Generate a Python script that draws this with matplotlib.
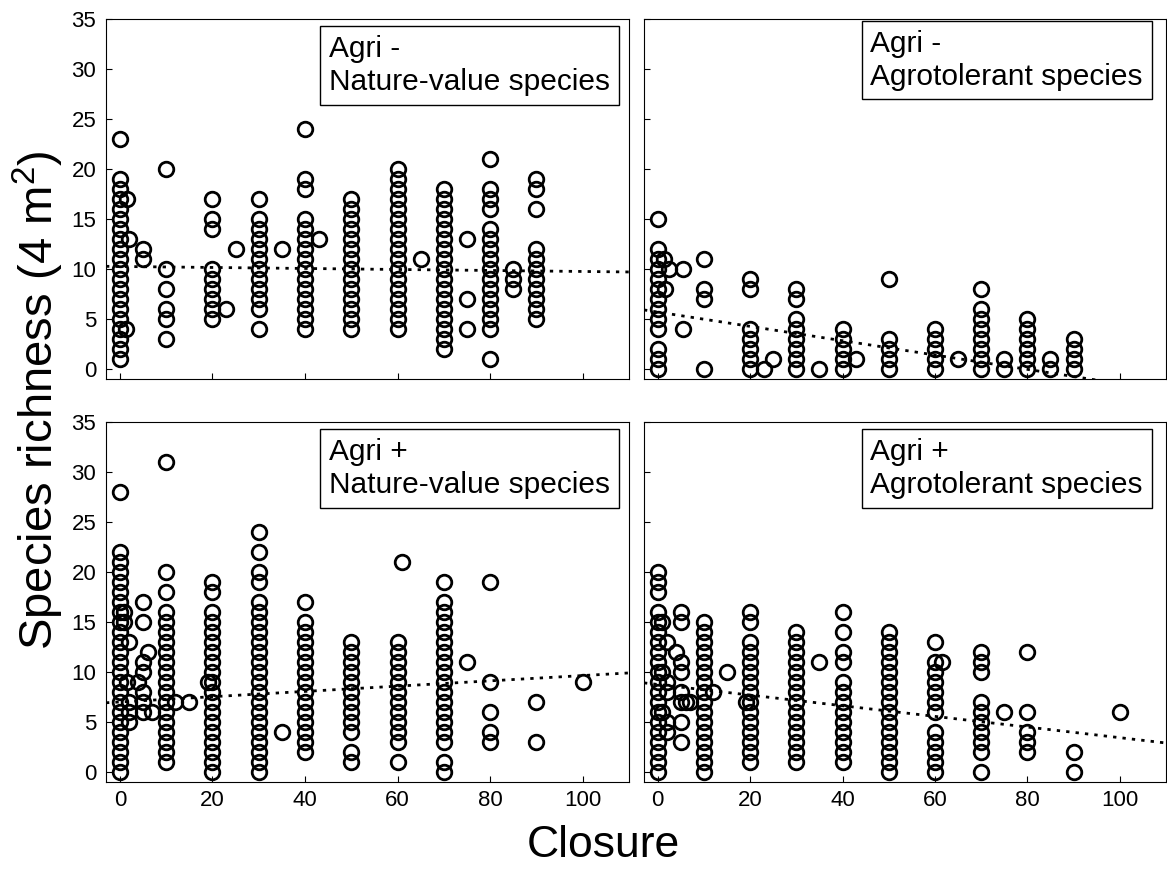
import numpy as np
import matplotlib.pyplot as plt

plt.rcParams['font.family'] = ['Liberation Sans', 'DejaVu Sans']
plt.rcParams['mathtext.default'] = 'regular'

# closure levels where most plots sit
levels = [0, 10, 20, 30, 40, 50, 60, 70, 80, 90]

# Agri - / Nature-value species : richness per closure level
nvm_cols = [
    [23, 19, 18, 17, 16, 15, 14, 13, 12, 11, 10, 9, 8, 7, 6, 5, 4, 3, 2, 1],
    [20, 10, 8, 6, 5, 3],
    [17, 15, 14, 10, 9, 8, 7, 6, 5],
    [17, 15, 14, 13, 12, 11, 10, 9, 8, 7, 6, 4],
    [24, 19, 18, 15, 14, 13, 12, 11, 10, 9, 8, 7, 6, 5, 4],
    [17, 16, 15, 14, 13, 12, 11, 10, 9, 8, 7, 6, 5, 4],
    [20, 19, 18, 17, 16, 15, 14, 13, 12, 11, 10, 9, 8, 7, 6, 5, 4],
    [18, 17, 16, 15, 14, 13, 12, 11, 10, 9, 8, 7, 6, 5, 4, 3, 2],
    [21, 18, 17, 16, 14, 13, 12, 11, 10, 9, 8, 7, 6, 5, 4, 1],
    [19, 18, 16, 12, 11, 10, 9, 8, 7, 6, 5],
]
nvm_xo = [1.5, 2, 1.3, 5, 5, 23, 25, 35, 43, 65, 75, 75, 75, 85, 85, 85]
nvm_yo = [17, 13, 4, 12, 11, 6, 12, 12, 13, 11, 13, 7, 4, 10, 9, 8]

# Agri - / Agrotolerant species
agm_cols = [
    [15, 12, 11, 10, 9, 8, 7, 6, 5, 4, 2, 1, 0],
    [11, 8, 7, 0],
    [9, 8, 4, 3, 2, 1, 0],
    [8, 7, 5, 4, 3, 2, 1, 0],
    [4, 3, 2, 1, 0],
    [9, 3, 2, 1, 0],
    [4, 3, 2, 1, 0],
    [8, 6, 5, 4, 3, 2, 1, 0],
    [5, 4, 3, 2, 1, 0],
    [3, 2, 1, 0],
]
agm_xo = [1.3, 2.4, 5.4, 1.5, 5.4, 23, 25, 35, 43, 65, 75, 75, 85, 85]
agm_yo = [11, 10, 10, 8, 4, 0, 1, 0, 1, 1, 1, 0, 1, 0]

# Agri + / Nature-value species
nvp_cols = [
    [28, 22, 21, 20, 19, 18, 17, 16, 15, 14, 13, 12, 11, 10, 9, 8, 7, 6, 5, 4, 3, 2, 1, 0],
    [31, 20, 18, 16, 15, 14, 13, 12, 11, 10, 9, 8, 7, 6, 5, 4, 3, 2, 1],
    [19, 18, 16, 15, 14, 13, 12, 11, 10, 9, 8, 7, 6, 5, 4, 3, 2, 1, 0],
    [24, 22, 20, 19, 17, 16, 15, 14, 13, 12, 11, 10, 9, 8, 7, 6, 5, 4, 3, 2, 1, 0],
    [17, 15, 14, 13, 12, 11, 10, 9, 8, 7, 6, 5, 4, 3, 2],
    [13, 12, 11, 10, 9, 8, 7, 6, 5, 4, 2, 1],
    [13, 12, 11, 10, 9, 8, 7, 6, 5, 4, 3, 1],
    [19, 17, 16, 15, 14, 13, 12, 11, 10, 9, 8, 7, 6, 5, 4, 3, 1, 0],
    [19, 9, 6, 4, 3],
    [7, 3],
]
nvp_xo = [1, 1, 2, 1.5, 2, 2, 2, 5, 5, 6, 5, 5, 4, 5, 5, 5, 7, 12, 15, 19, 35, 61, 75, 100]
nvp_yo = [16, 15, 13, 9, 7, 6, 5, 17, 15, 12, 11, 10, 9, 8, 7, 6, 6, 7, 7, 9, 4, 21, 11, 9]

# Agri + / Agrotolerant species
agp_cols = [
    [20, 19, 18, 16, 15, 14, 13, 12, 11, 10, 9, 8, 7, 6, 5, 4, 3, 2, 1, 0],
    [15, 14, 13, 12, 11, 10, 9, 8, 7, 6, 5, 4, 3, 2, 1, 0],
    [16, 15, 13, 12, 11, 10, 9, 8, 7, 6, 5, 4, 3, 2, 1],
    [14, 13, 12, 11, 10, 9, 8, 7, 6, 5, 4, 3, 2, 1],
    [16, 14, 12, 11, 9, 8, 7, 6, 5, 4, 3, 2, 1],
    [14, 13, 12, 11, 10, 9, 8, 7, 6, 5, 4, 3, 2, 1, 0],
    [13, 11, 10, 9, 8, 7, 6, 4, 3, 2, 1, 0],
    [12, 11, 10, 7, 6, 5, 4, 3, 2, 0],
    [12, 6, 4, 3, 2],
    [2, 0],
]
agp_xo = [1, 2, 1, 2, 2, 1, 2, 2, 5, 5, 4, 5, 5, 5, 5, 5, 5, 6, 7, 12, 15, 19, 35, 61.5, 75, 100]
agp_yo = [15, 13, 10, 9, 8, 6, 5, 4, 16, 15, 12, 11, 10, 8, 7, 5, 3, 7, 7, 8, 10, 7, 11, 11, 6, 6]

# fitted trend lines (intercept, slope)
fits = [(10.25, -0.005), (5.69, -0.0716), (7.0, 0.0264), (8.75, -0.0532)]

titles = ['Agri -\nNature-value species', 'Agri -\nAgrotolerant species',
          'Agri +\nNature-value species', 'Agri +\nAgrotolerant species']


def flatten(cols, xo, yo):
    xs, ys = [], []
    for lv, c in zip(levels, cols):
        xs += [lv] * len(c)
        ys += c
    return np.array(xs + xo, float), np.array(ys + yo, float)


panels = [flatten(nvm_cols, nvm_xo, nvm_yo), flatten(agm_cols, agm_xo, agm_yo),
          flatten(nvp_cols, nvp_xo, nvp_yo), flatten(agp_cols, agp_xo, agp_yo)]

fig = plt.figure(figsize=(11.67, 8.74), dpi=100)
rects = [[0.0908, 0.5664, 0.4482, 0.4119], [0.5518, 0.5664, 0.4473, 0.4119],
         [0.0908, 0.1053, 0.4482, 0.4119], [0.5518, 0.1053, 0.4473, 0.4119]]
box_xy = [(0.9637, 0.955), (0.956, 0.969), (0.9637, 0.955), (0.956, 0.955)]

xline = np.array([-3, 110])
for i in range(4):
    ax = fig.add_axes(rects[i])
    x, y = panels[i]
    a, b = fits[i]
    ax.plot(xline, a + b * xline, color='black', lw=2, linestyle=(0, (1.2, 2.2)))
    ax.plot(x, y, 'o', ms=10.5, mfc='none', mec='black', mew=2.0)
    ax.set_xlim(-3, 110)
    ax.set_ylim(-1, 35)
    ax.set_xticks([0, 20, 40, 60, 80, 100])
    ax.set_yticks([0, 5, 10, 15, 20, 25, 30, 35])
    ax.tick_params(direction='in', length=4, labelsize=16, top=False, right=False)
    ax.tick_params(axis='y', pad=7)
    ax.tick_params(axis='x', pad=6)
    if i < 2:
        ax.tick_params(labelbottom=False)
    if i % 2 == 1:
        ax.tick_params(labelleft=False)
    bx, by = box_xy[i]
    ax.text(bx, by, titles[i], transform=ax.transAxes, ha='right', va='top',
            multialignment='left', fontsize=21.5, linespacing=1.2,
            bbox=dict(boxstyle='square,pad=0.3', fc='white', ec='black', lw=1))

fig.text(0.033, 0.542, 'Species richness (4 m$^{2}$)', rotation=90, ha='center', va='center',
         fontsize=34)
fig.text(0.517, 0.033, 'Closure', ha='center', va='center', fontsize=32)

fig.savefig('out.png', dpi=100)
